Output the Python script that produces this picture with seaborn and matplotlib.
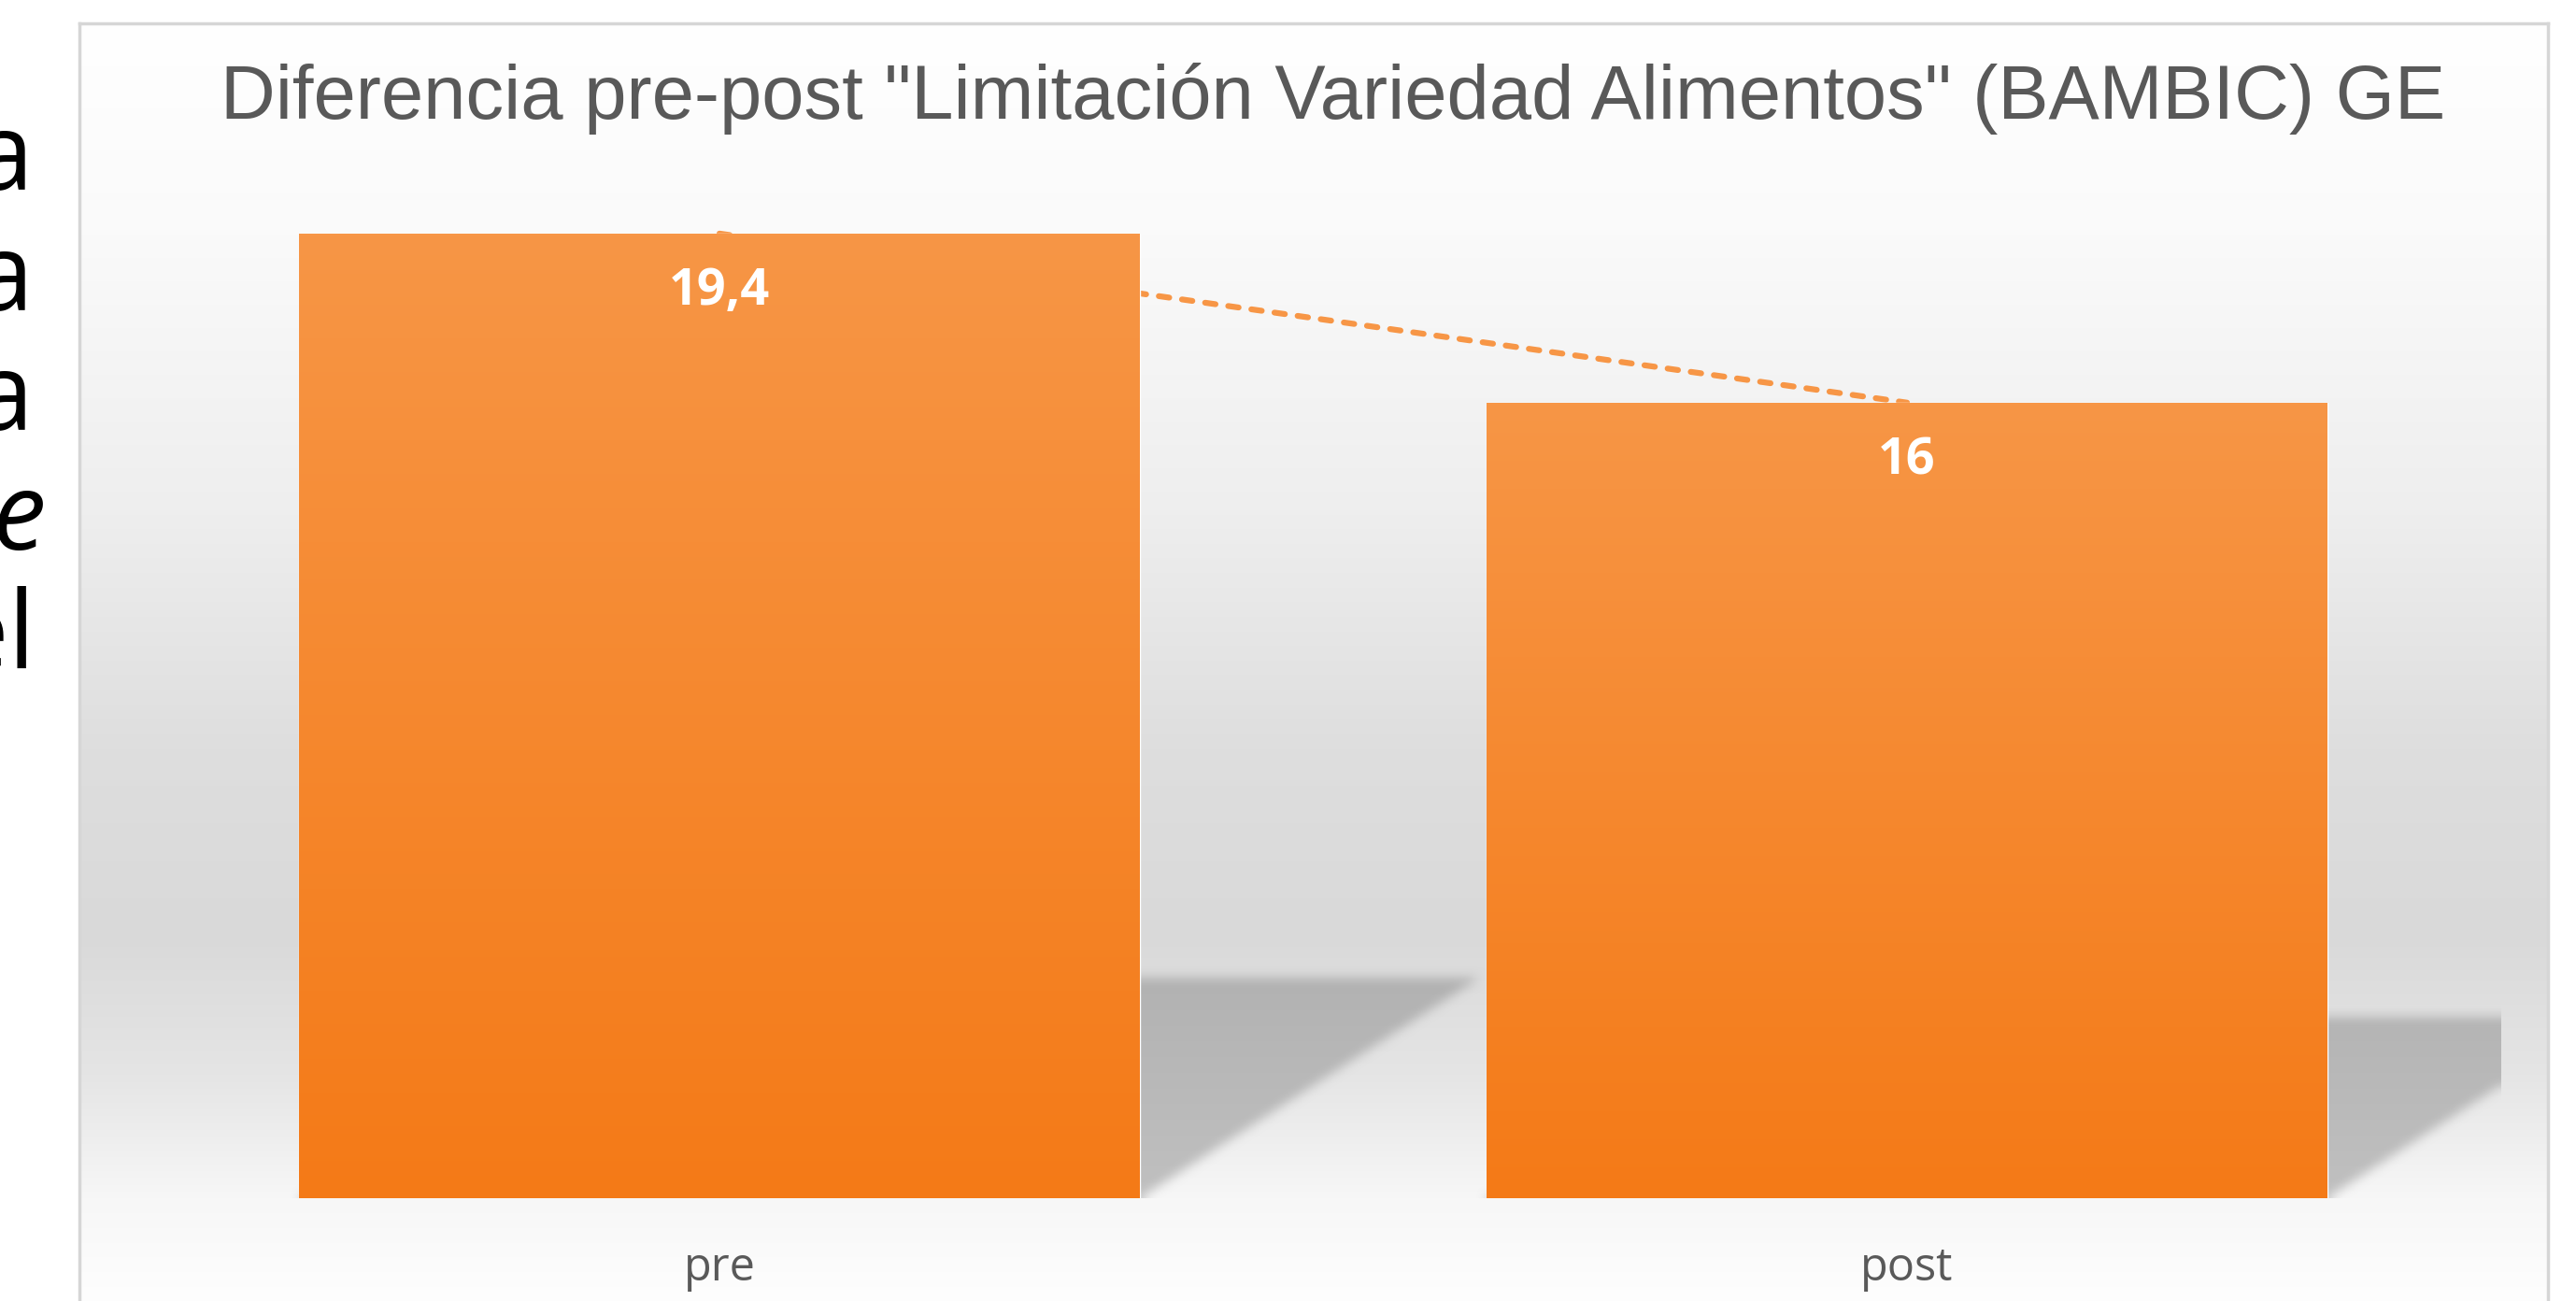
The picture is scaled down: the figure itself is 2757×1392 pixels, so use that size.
"""
Diferencia pre-post "Limitación Variedad Alimentos" (BAMBIC) GE
Bar chart with gradient fills, perspective shadows and a dashed trend line
"""

import numpy as np
import pandas as pd
import matplotlib
matplotlib.use('Agg')
import matplotlib.pyplot as plt
import seaborn as sns
from matplotlib.colors import to_rgb

# Data
categories = ['pre', 'post']
values = [19.4, 16.0]
title = 'Diferencia pre-post "Limitación Variedad Alimentos" (BAMBIC) GE'

# Cropped slide text on the left edge
side_words = ['a', 'a', 'a', 'e', 'el']
side_italic = [False, False, False, True, False]

W, H = 2757, 1392
GRAY_TEXT = '#595959'
BAR_TOP = '#F79646'
BAR_BOTTOM = '#F47A17'


def box_blur(a, r, axis):
    """Simple box blur along one axis"""
    a = np.moveaxis(a, axis, 0)
    p = np.pad(a, ((r + 1, r),) + ((0, 0),) * (a.ndim - 1), mode='edge')
    c = np.cumsum(p, axis=0)
    out = (c[2 * r + 1:] - c[:-2 * r - 1]) / (2 * r + 1)
    return np.moveaxis(out, 0, axis)


sns.set_theme(style='white')
plt.rcParams['font.family'] = ['Open Sans', 'DejaVu Sans']

fig = plt.figure(figsize=(W / 100, H / 100), dpi=100)
fig.patch.set_facecolor('white')

# Chart area background (vertical grey gradient) and frame
bg = fig.add_axes([85 / W, 0, (2727 - 85) / W, (H - 25) / H])
py = np.arange(25, H)
stops_y = [25, 250, 550, 800, 1000, 1150, 1282, 1392]
stops_v = [255, 250, 238, 222, 217, 229, 247, 254]
shade = np.interp(py, stops_y, stops_v) / 255.0
bg.imshow(np.repeat(shade[:, None, None], 3, axis=2), aspect='auto',
          extent=(0, 1, 0, 1), origin='upper')
bg.set_xticks([])
bg.set_yticks([])
for side in ['left', 'top', 'right']:
    bg.spines[side].set_color('#d6d6d6')
    bg.spines[side].set_linewidth(2.5)
bg.spines['bottom'].set_visible(False)

# Plot axes
ax = fig.add_axes([134.5 / W, 1 - 1282 / H, 2542 / W, 1064 / H])
ax.patch.set_alpha(0)
sns.barplot(x=categories, y=values, ax=ax, width=0.708, color=BAR_TOP,
            saturation=1, zorder=1)

# Gradient fill on each bar
top_rgb = np.array(to_rgb(BAR_TOP))
bot_rgb = np.array(to_rgb(BAR_BOTTOM))
t = np.linspace(0, 1, 256)[:, None]
bar_grad = (top_rgb * (1 - t) + bot_rgb * t)[:, None, :]
for p in ax.patches:
    x0, y0 = p.get_x(), p.get_y()
    w, h = p.get_width(), p.get_height()
    im = ax.imshow(bar_grad, extent=(x0, x0 + w, y0, y0 + h), origin='upper',
                   aspect='auto', zorder=1.1)
    im.set_clip_path(p)

# Perspective shadows behind the bars
xmin, xmax, ymin, ymax = -0.5, 1.5, 0, 20
nx, ny = 2542, 1064
X, Y = np.meshgrid(np.linspace(xmin, xmax, nx), np.linspace(ymin, ymax, ny))
mask = np.zeros_like(X)
shadow_ratio, skew = 0.228, 0.0645
for p in ax.patches:
    x0, x1 = p.get_x(), p.get_x() + p.get_width()
    sh = shadow_ratio * p.get_height()
    inside = (Y <= sh) & (X >= x0 + skew * Y) & (X <= x1 + skew * Y)
    mask[inside] = 1.0
for _ in range(2):
    mask = box_blur(mask, 6, 0)
    mask = box_blur(mask, 6, 1)
gray = np.clip(192 - 14 * Y / 4.4, 176, 194) / 255.0
shadow = np.dstack([gray, gray, gray, mask])
ax.imshow(shadow, extent=(xmin, xmax, ymin, ymax), origin='lower',
          aspect='auto', zorder=0.5, interpolation='bilinear')

# Dashed line joining bar tops
ax.plot(range(len(values)), values, color=BAR_TOP, lw=4.5, dashes=(1.8, 2.2),
        dash_capstyle='round', zorder=0.8)

# Data labels
for i, v in enumerate(values):
    label = f'{v:g}'.replace('.', ',')
    ax.annotate(label, (i, v), xytext=(0, -45), textcoords='offset points',
                ha='center', va='center', color='white', fontsize=39,
                fontweight='bold', zorder=3)

ax.set_xlim(xmin, xmax)
ax.set_ylim(ymin, ymax)
ax.set_yticks([])
ax.set_xlabel('')
ax.set_ylabel('')
ax.tick_params(axis='x', length=0, pad=36, labelsize=35, labelcolor=GRAY_TEXT)
sns.despine(ax=ax, left=True, bottom=True)

# Title
fig.text(1427 / W, 1 - 127 / H, title, ha='center', va='baseline',
         fontsize=58.6, color=GRAY_TEXT, family=['Liberation Sans', 'DejaVu Sans'])

# Left-edge slide text fragments
baselines = [203, 332, 460, 588, 715]
anchors = [36, 36, 36, 49, 38]
for word, it, by, ax_px in zip(side_words, side_italic, baselines, anchors):
    fig.text(ax_px / W, 1 - by / H, word, ha='right',
             va='baseline', fontsize=83, color='black',
             style='italic' if it else 'normal')

fig.savefig('out.png', dpi=100)
plt.close(fig)
